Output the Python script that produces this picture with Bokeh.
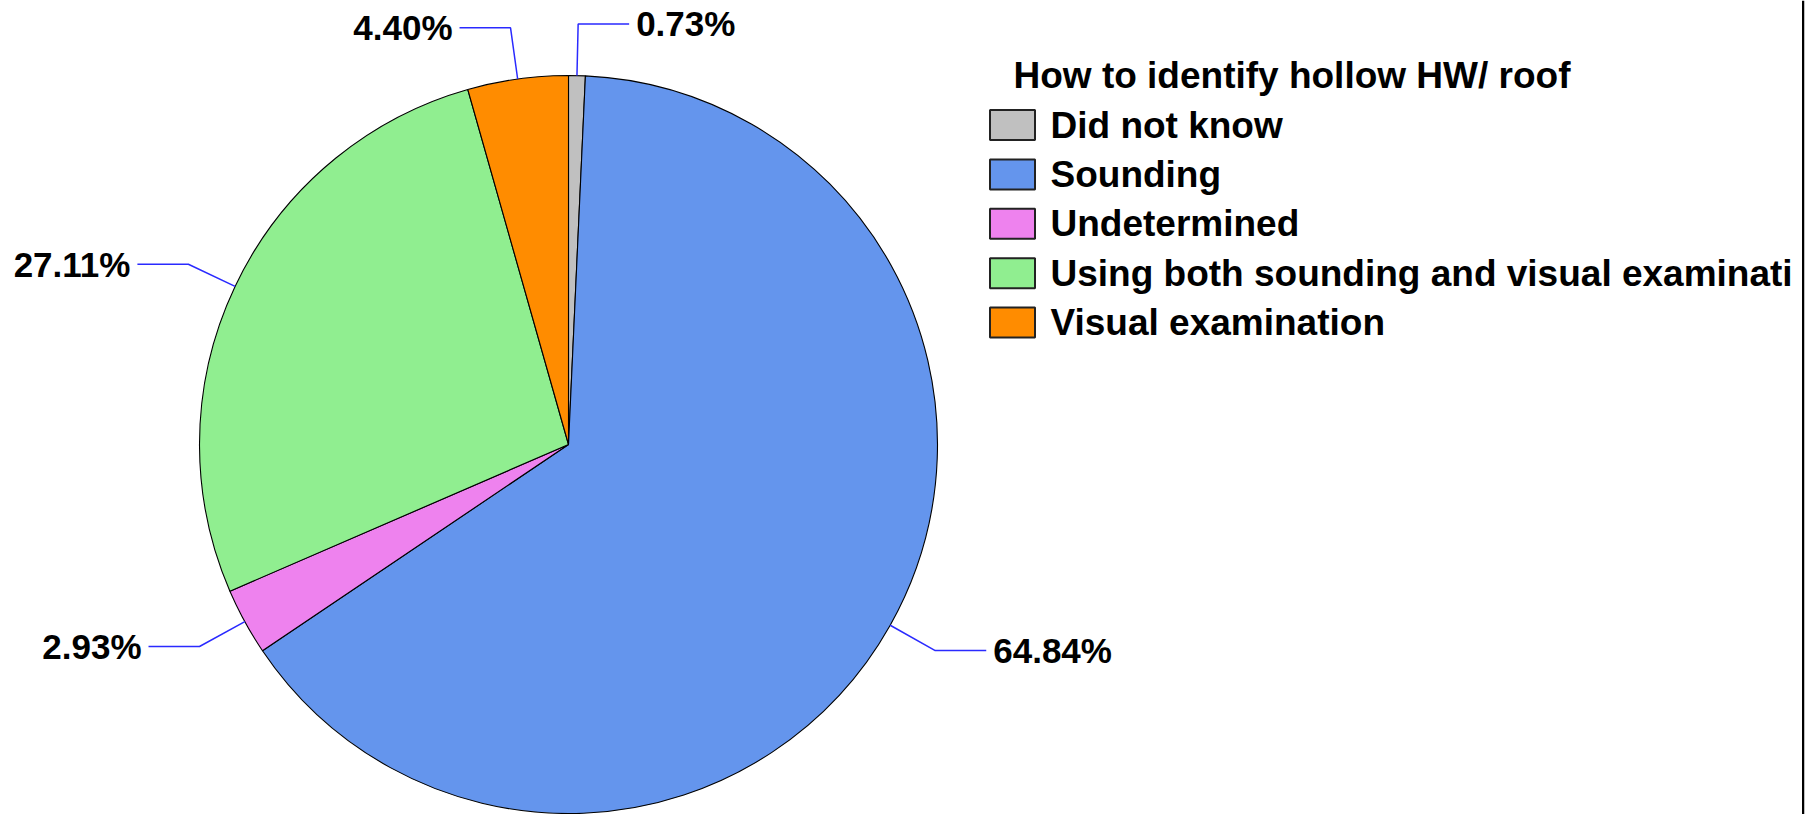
import math
from bokeh.plotting import figure
from bokeh.models import Range1d
from bokeh.core.properties import value
from bokeh.embed import file_html
from bokeh.resources import INLINE

# ---- data ----
categories = ["Did not know", "Sounding", "Undetermined",
              "Using both sounding and visual examinati", "Visual examination"]
percentages = [0.73, 64.84, 2.93, 27.11, 4.40]
colors = ["#C0C0C0", "#6495ED", "#EE82EE", "#90EE90", "#FF8C00"]
legend_title = "How to identify hollow HW/ roof"

# ---- layout (pixels) ----
W, H = 1814, 814
FRAME_W = 1804
CX, CY = 568, H - 444
R = 369
FONT = value("Liberation Sans")

p = figure(width=W, height=H, output_backend="svg", toolbar_location=None,
           x_range=Range1d(0, FRAME_W), y_range=Range1d(0, H),
           min_border_left=0, min_border_top=0, min_border_bottom=0,
           min_border_right=W - FRAME_W)
p.axis.visible = False
p.grid.visible = False
p.outline_line_color = None
p.background_fill_color = "white"
p.border_fill_color = "white"

total = sum(percentages)
starts, ends, mids = [], [], []
cum = 0.0
for v in percentages:
    a0 = math.pi / 2 - 2 * math.pi * cum / total
    cum += v
    a1 = math.pi / 2 - 2 * math.pi * cum / total
    starts.append(a1)
    ends.append(a0)
    mids.append((a0 + a1) / 2)

p.wedge(x=[CX] * len(percentages), y=[CY] * len(percentages), radius=R,
        start_angle=starts, end_angle=ends, direction="anticlock",
        fill_color=colors, line_color="black", line_width=1.1)

# leader lines + labels
xs, ys, tx, ty, ttext, talign = [], [], [], [], [], []
for m, v in zip(mids, percentages):
    ex, ey = CX + R * math.cos(m), CY + R * math.sin(m)
    bx, by = CX + 1.14 * R * math.cos(m), CY + 1.14 * R * math.sin(m)
    side = 1 if math.cos(m) >= 0 else -1
    hx = bx + side * 51
    xs.append([ex, bx, hx])
    ys.append([ey, by, by])
    tx.append(hx + side * 7)
    ty.append(by)
    ttext.append(f"{v:.2f}%")
    talign.append("left" if side > 0 else "right")

p.multi_line(xs=xs, ys=ys, line_color="#2A2AFF", line_width=1.5)
p.text(x=tx, y=ty, text=ttext, text_align=talign, text_baseline="middle",
       text_font=FONT, text_font_style="bold", text_font_size="35px",
       text_color="black")

# legend
LX_BOX, LX_TEXT = 1012, 1050
title_y = H - 75
item_y = [H - (124.5 + 49.4 * i) for i in range(len(categories))]
p.text(x=[1013], y=[title_y], text=[legend_title], text_baseline="middle",
       text_font=FONT, text_font_style="bold", text_font_size="37px",
       text_color="black")
p.rect(x=[LX_BOX] * len(categories), y=item_y, width=45, height=30,
       fill_color=colors, line_color="#222222", line_width=2)
p.text(x=[LX_TEXT] * len(categories), y=item_y, text=categories,
       text_baseline="middle", text_font=FONT, text_font_style="bold",
       text_font_size="37px", text_color="black")

# right border of the chart area
p.quad(left=[1801.5], right=[FRAME_W], bottom=[0], top=[H],
       fill_color="black", line_color=None)

open("out.html", "w").write(file_html(p, INLINE))
